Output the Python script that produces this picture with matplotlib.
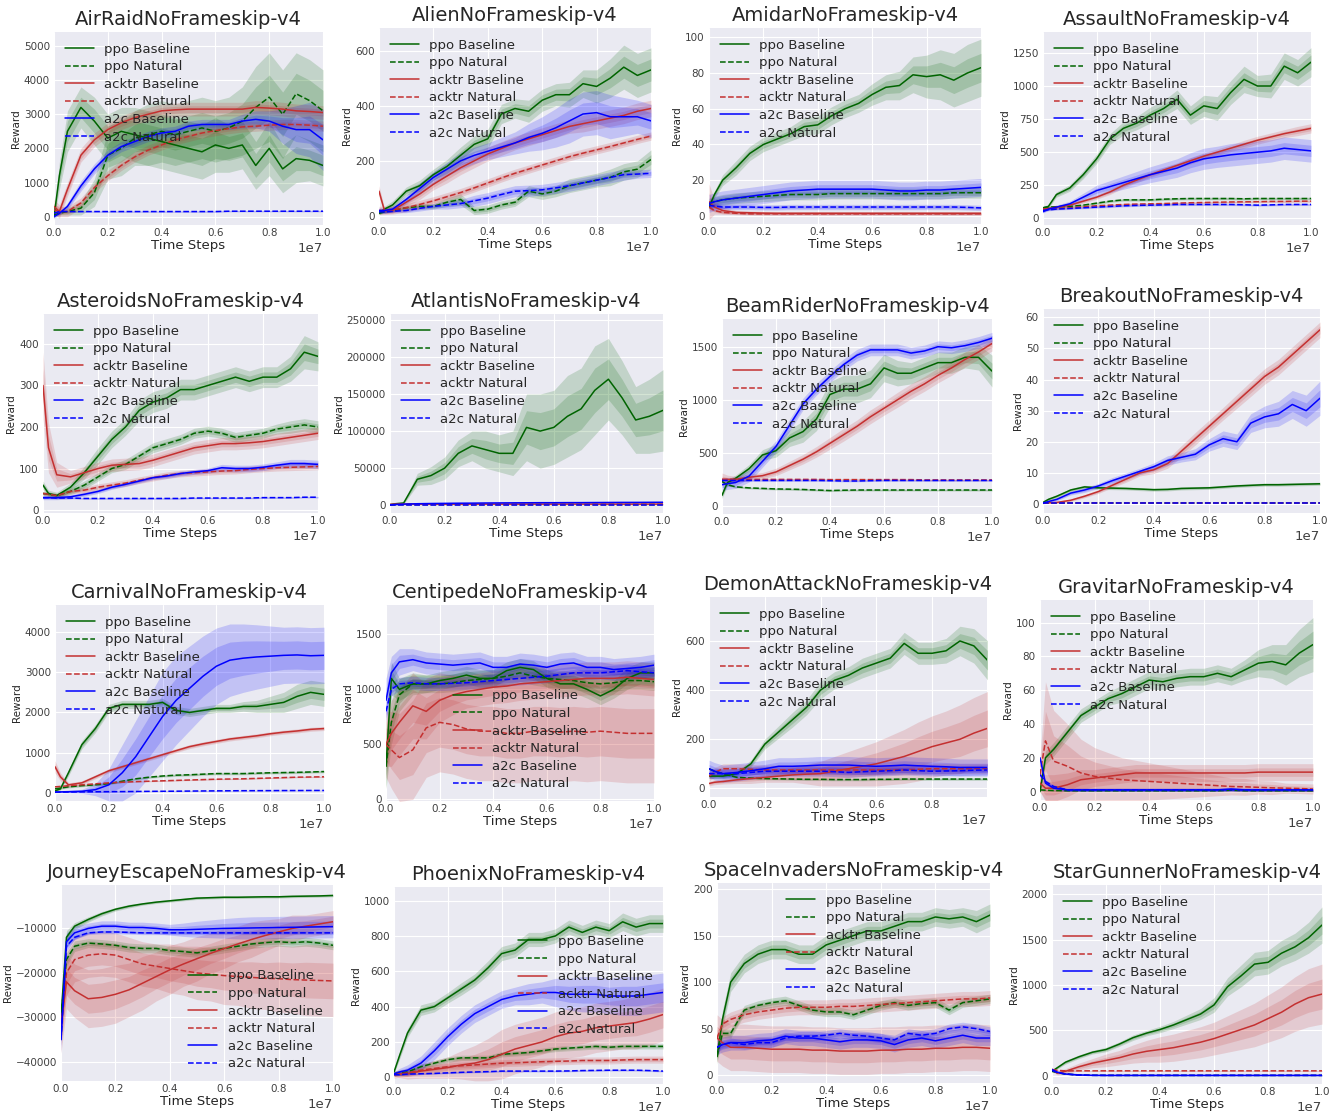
import numpy as np
import matplotlib
matplotlib.use("Agg")
import matplotlib.pyplot as plt
from matplotlib.ticker import ScalarFormatter

# time steps (x 1e7)
STEPS = [0, 0.02, 0.05, 0.1, 0.15, 0.2, 0.25, 0.3, 0.35, 0.4, 0.45, 0.5,
         0.55, 0.6, 0.65, 0.7, 0.75, 0.8, 0.85, 0.9, 0.95, 1.0]

SERIES = ["ppo Baseline", "ppo Natural", "acktr Baseline",
          "acktr Natural", "a2c Baseline", "a2c Natural"]

# order of rows in every *_MEAN / *_SD: ppo base, ppo nat, acktr base, acktr nat, a2c base, a2c nat
AIRRAID_MEAN = [
    [0, 1200, 2500, 3200, 2800, 2300, 2500, 2400, 2300, 2200, 2100, 2000, 1900, 2100, 2000, 2100, 1500, 2000, 1400, 1700, 1650, 1500],
    [50, 100, 150, 250, 700, 1800, 2000, 2300, 2400, 2500, 2400, 2500, 2600, 2500, 2600, 2800, 3200, 3500, 3000, 3600, 3400, 3100],
    [300, 150, 800, 1800, 2250, 2550, 2750, 2900, 3000, 3100, 3130, 3150, 3150, 3150, 3150, 3150, 3200, 3180, 3150, 3100, 3080, 3050],
    [200, 150, 150, 400, 850, 1200, 1500, 1750, 1950, 2100, 2250, 2350, 2450, 2520, 2580, 2630, 2650, 2680, 2700, 2700, 2680, 2650],
    [0, 100, 300, 900, 1400, 1800, 2050, 2200, 2350, 2450, 2500, 2650, 2700, 2700, 2700, 2800, 2850, 2800, 2650, 2550, 2550, 2250],
    [100, 150, 150, 150, 150, 150, 150, 150, 150, 150, 150, 150, 150, 150, 160, 160, 160, 160, 160, 160, 160, 160],
]
AIRRAID_SD = [
    [100, 400, 600, 600, 700, 700, 700, 800, 800, 800, 800, 800, 800, 800, 700, 700, 700, 800, 700, 700, 600, 600],
    [50, 50, 100, 200, 400, 700, 800, 800, 900, 900, 900, 900, 900, 900, 900, 1000, 1200, 1300, 1300, 1200, 1200, 1200],
    200, 150,
    [50, 50, 100, 150, 150, 150, 150, 150, 150, 150, 150, 150, 150, 150, 150, 200, 250, 300, 500, 700, 800, 900],
    20,
]

ALIEN_MEAN = [
    [10, 25, 40, 90, 110, 150, 180, 220, 260, 280, 370, 390, 380, 420, 440, 440, 480, 470, 500, 540, 510, 530],
    [10, 15, 20, 30, 35, 35, 50, 60, 20, 25, 40, 50, 90, 80, 90, 110, 120, 130, 140, 160, 170, 205],
    [90, 20, 20, 50, 80, 115, 145, 175, 200, 225, 245, 265, 280, 295, 310, 325, 335, 345, 355, 365, 380, 390],
    [20, 20, 22, 30, 42, 55, 70, 85, 102, 120, 138, 155, 170, 185, 200, 215, 228, 240, 252, 265, 278, 290],
    [20, 20, 25, 60, 100, 140, 170, 200, 220, 235, 250, 265, 285, 300, 320, 345, 370, 375, 360, 360, 360, 345],
    [15, 15, 17, 20, 28, 35, 40, 45, 55, 65, 78, 90, 92, 95, 102, 110, 120, 130, 140, 150, 152, 155],
]
ALIEN_SD = [
    [5, 10, 15, 15, 20, 20, 25, 30, 30, 35, 35, 35, 40, 40, 40, 45, 50, 60, 70, 80, 80, 80],
    [5, 5, 5, 8, 10, 10, 15, 20, 15, 15, 15, 15, 20, 20, 20, 25, 25, 25, 30, 30, 30, 35],
    [20, 10, 10, 15, 20, 20, 25, 25, 25, 25, 25, 25, 25, 25, 25, 25, 30, 30, 30, 30, 30, 30],
    15,
    [10, 10, 10, 15, 20, 20, 25, 30, 30, 30, 35, 40, 50, 60, 70, 80, 80, 80, 80, 70, 60, 60],
    [5, 5, 5, 8, 10, 10, 15, 15, 20, 20, 20, 20, 20, 20, 20, 20, 20, 20, 20, 20, 15, 15],
]

AMIDAR_MEAN = [
    [5, 12, 20, 27, 35, 40, 43, 46, 50, 51, 56, 60, 63, 68, 72, 73, 79, 78, 79, 76, 80, 83],
    [7, 8, 9, 10, 10.5, 11, 11.5, 12, 12, 12, 12.5, 12.5, 12.5, 12.5, 12.5, 12.5, 12.5, 12.5, 12.5, 13, 13, 13],
    [8, 5, 3, 2, 1.8, 1.6, 1.5, 1.5, 1.5, 1.5, 1.5, 1.5, 1.5, 1.5, 1.5, 1.5, 1.5, 1.5, 1.5, 1.5, 1.5, 1.5],
    [5, 3, 2, 1.5, 1.2, 1.2, 1.2, 1.2, 1.2, 1.2, 1.2, 1.2, 1.2, 1.2, 1.2, 1.2, 1.2, 1.2, 1.2, 1.2, 1.2, 1.2],
    [7, 8, 9, 10, 11, 12, 13, 14, 14.5, 15, 15, 15, 15, 15, 14.5, 14, 14, 14.5, 14.5, 15, 15.5, 16],
    [6, 5.5, 5, 5, 5, 4.8, 4.8, 5, 5, 5, 5, 5, 5, 5, 5, 5, 5, 5, 5, 5, 4.8, 4.5],
]
AMIDAR_SD = [
    [1, 2, 3, 4, 4, 4, 4, 4, 5, 5, 5, 5, 5, 6, 7, 8, 10, 12, 14, 15, 16, 16],
    3,
    [10, 4, 2, 1, 1, 1, 1, 1, 1, 1, 1, 1, 1, 1, 1, 1, 1, 1, 1, 1, 1, 1],
    0.8, 5, 1.5,
]

ASSAULT_MEAN = [
    [80, 90, 180, 230, 330, 450, 600, 680, 720, 780, 830, 900, 780, 850, 830, 950, 1050, 1000, 1000, 1150, 1100, 1180],
    [80, 85, 88, 90, 100, 115, 130, 140, 140, 140, 145, 148, 150, 150, 150, 150, 148, 150, 150, 150, 150, 150],
    [70, 75, 85, 100, 130, 160, 200, 250, 290, 330, 365, 400, 435, 470, 500, 530, 560, 590, 615, 640, 660, 680],
    [70, 72, 75, 80, 88, 95, 100, 105, 108, 110, 112, 115, 118, 120, 122, 124, 125, 126, 128, 128, 130, 130],
    [50, 70, 85, 110, 160, 210, 240, 270, 300, 330, 355, 380, 420, 450, 465, 480, 490, 500, 510, 530, 520, 510],
    [60, 65, 70, 75, 80, 85, 90, 95, 98, 100, 102, 105, 105, 105, 105, 105, 103, 100, 102, 105, 105, 105],
]
ASSAULT_SD = [
    [10, 15, 20, 25, 30, 35, 40, 50, 50, 60, 60, 70, 70, 80, 90, 90, 100, 80, 90, 100, 100, 110],
    10,
    [10, 10, 10, 10, 15, 15, 20, 20, 20, 20, 20, 20, 25, 25, 25, 25, 30, 30, 30, 30, 35, 35],
    8,
    [10, 10, 15, 20, 30, 40, 45, 50, 55, 60, 65, 70, 75, 80, 80, 85, 85, 85, 85, 85, 85, 85],
    8,
]

ASTEROIDS_MEAN = [
    [60, 40, 35, 55, 90, 130, 170, 200, 240, 260, 270, 290, 290, 300, 310, 320, 310, 320, 320, 340, 380, 370],
    [40, 38, 35, 45, 60, 80, 100, 110, 130, 150, 160, 170, 185, 190, 185, 175, 180, 185, 195, 200, 205, 200],
    [300, 150, 85, 80, 90, 100, 108, 110, 112, 120, 130, 140, 150, 155, 160, 160, 162, 165, 170, 175, 180, 185],
    [40, 38, 35, 45, 48, 55, 60, 65, 72, 78, 84, 88, 90, 92, 94, 95, 98, 100, 102, 103, 104, 105],
    [30, 30, 30, 32, 38, 45, 55, 62, 70, 78, 82, 88, 92, 95, 102, 100, 100, 103, 108, 112, 112, 110],
    [30, 30, 29, 29, 28, 28, 28, 28, 28, 28, 28, 28, 29, 29, 29, 29, 29, 30, 30, 30, 31, 31],
]
ASTEROIDS_SD = [
    [10, 8, 8, 10, 15, 20, 20, 20, 25, 25, 25, 25, 25, 25, 25, 25, 25, 25, 25, 30, 40, 35],
    [5, 5, 5, 8, 10, 10, 10, 12, 12, 12, 12, 12, 12, 12, 12, 12, 12, 12, 12, 15, 15, 15],
    [80, 60, 30, 15, 15, 15, 15, 15, 15, 15, 15, 15, 15, 15, 15, 15, 15, 15, 15, 15, 15, 15],
    [5, 5, 5, 6, 7, 8, 8, 8, 8, 8, 8, 8, 8, 8, 8, 8, 8, 8, 8, 8, 8, 8],
    [5, 5, 5, 5, 5, 5, 5, 5, 5, 5, 6, 6, 6, 6, 8, 8, 8, 8, 8, 10, 10, 10],
    2,
]

ATLANTIS_MEAN = [
    [500, 2000, 3000, 35000, 40000, 50000, 70000, 80000, 75000, 70000, 70000, 105000, 100000, 105000, 120000, 130000, 155000, 170000, 145000, 115000, 120000, 128000],
    [800, 1000, 1000, 1000, 1000, 1000, 1000, 1000, 1000, 1000, 1000, 1000, 1000, 1000, 1000, 1000, 1000, 1000, 1000, 1000, 1000, 1000],
    [1000, 1500, 1500, 1500, 1500, 1500, 1500, 1500, 1500, 1500, 1500, 1500, 1500, 1500, 1500, 1500, 1500, 1500, 1500, 1500, 1500, 1500],
    [800, 1000, 1000, 1000, 1000, 1000, 1000, 1000, 1000, 1000, 1000, 1000, 1000, 1000, 1000, 1000, 1000, 1000, 1000, 1000, 1000, 1000],
    [500, 1000, 1500, 2000, 2300, 2500, 2700, 2800, 3000, 3100, 3200, 3300, 3400, 3400, 3500, 3500, 3600, 3700, 3800, 3800, 3900, 4000],
    [500, 500, 500, 500, 500, 500, 500, 500, 500, 500, 500, 500, 500, 500, 500, 500, 500, 500, 500, 500, 500, 500],
]
ATLANTIS_SD = [
    [500, 1000, 1500, 8000, 12000, 15000, 18000, 20000, 25000, 25000, 30000, 45000, 50000, 50000, 55000, 55000, 60000, 55000, 50000, 45000, 50000, 55000],
    500, 500, 300, 800, 200,
]

BEAMRIDER_MEAN = [
    [100, 220, 260, 350, 480, 520, 640, 700, 820, 1050, 1100, 1100, 1150, 1300, 1250, 1250, 1300, 1350, 1350, 1400, 1400, 1270],
    [230, 200, 180, 170, 165, 160, 158, 155, 150, 145, 148, 150, 150, 150, 150, 150, 150, 150, 150, 150, 150, 150],
    [250, 250, 250, 270, 285, 320, 380, 440, 510, 590, 670, 750, 840, 920, 1000, 1080, 1150, 1230, 1300, 1380, 1450, 1530],
    [250, 250, 250, 250, 250, 250, 250, 250, 250, 248, 248, 248, 248, 248, 248, 248, 245, 245, 245, 245, 245, 245],
    [200, 210, 220, 280, 420, 560, 760, 960, 1100, 1220, 1330, 1420, 1470, 1470, 1470, 1440, 1460, 1500, 1490, 1510, 1540, 1580],
    [240, 240, 240, 240, 240, 240, 240, 240, 240, 238, 235, 235, 238, 240, 240, 240, 240, 240, 240, 240, 240, 240],
]
BEAMRIDER_SD = [
    [30, 30, 30, 40, 50, 60, 80, 100, 110, 120, 130, 130, 130, 130, 120, 100, 100, 100, 100, 100, 120, 150],
    10,
    [60, 40, 30, 30, 30, 35, 40, 45, 50, 55, 60, 60, 65, 65, 70, 70, 70, 70, 70, 70, 70, 70],
    8, 55, 8,
]

BREAKOUT_MEAN = [
    [0.5, 1.5, 2.5, 4.5, 5.5, 5.2, 5.1, 5, 4.8, 4.6, 4.7, 5, 5.1, 5.2, 5.5, 5.8, 6, 6.2, 6.2, 6.3, 6.4, 6.5],
    [0.3, 0.3, 0.3, 0.3, 0.3, 0.3, 0.3, 0.3, 0.3, 0.3, 0.3, 0.3, 0.3, 0.3, 0.3, 0.3, 0.3, 0.3, 0.3, 0.3, 0.3, 0.3],
    [0.3, 0.4, 0.5, 1.2, 2.5, 4, 6, 8, 10, 11, 13, 17, 21, 25, 29, 33, 37, 41, 44, 48, 52, 56],
    [0.3, 0.3, 0.3, 0.3, 0.3, 0.3, 0.3, 0.3, 0.3, 0.3, 0.3, 0.3, 0.3, 0.3, 0.3, 0.3, 0.3, 0.3, 0.3, 0.3, 0.3, 0.3],
    [0.3, 0.8, 1.5, 3.5, 4.5, 5.8, 7.5, 9, 10.5, 12, 14, 15, 16, 19, 21, 20, 26, 28, 29, 32, 30, 34],
    [0.3, 0.3, 0.3, 0.3, 0.3, 0.3, 0.3, 0.3, 0.3, 0.3, 0.3, 0.3, 0.3, 0.3, 0.3, 0.3, 0.3, 0.3, 0.3, 0.3, 0.3, 0.3],
]
BREAKOUT_SD = [
    0.5, 0.1,
    [0.2, 0.2, 0.3, 0.4, 0.5, 0.6, 0.8, 1, 1, 1.2, 1.5, 1.8, 2, 2, 2, 2.2, 2.4, 2.5, 2.5, 2.5, 2.5, 2.5],
    0.1,
    [0.2, 0.3, 0.5, 0.6, 0.8, 0.8, 1, 1, 1, 1.2, 1.5, 1.5, 1.8, 2, 2.5, 2.5, 3, 3.5, 4, 4.5, 5, 5.5],
    0.1,
]

CARNIVAL_MEAN = [
    [50, 100, 500, 1200, 1600, 2100, 2200, 2200, 2200, 2250, 2050, 2000, 2050, 2100, 2100, 2150, 2150, 2200, 2250, 2400, 2500, 2450],
    [100, 120, 150, 180, 200, 230, 290, 350, 390, 420, 440, 450, 465, 480, 480, 480, 490, 500, 505, 510, 520, 530],
    [650, 400, 200, 250, 400, 550, 650, 750, 850, 950, 1050, 1150, 1220, 1280, 1340, 1380, 1420, 1470, 1510, 1540, 1580, 1600],
    [150, 160, 180, 200, 225, 250, 265, 280, 290, 300, 310, 320, 330, 340, 345, 350, 360, 370, 380, 390, 395, 400],
    [20, 25, 30, 40, 80, 200, 500, 900, 1400, 1900, 2300, 2600, 2900, 3150, 3300, 3350, 3380, 3400, 3420, 3430, 3410, 3420],
    [20, 20, 22, 25, 28, 30, 32, 35, 38, 40, 42, 45, 48, 50, 52, 54, 55, 56, 58, 58, 60, 60],
]
CARNIVAL_SD = [
    [20, 30, 80, 100, 100, 100, 100, 100, 100, 100, 100, 100, 100, 100, 100, 120, 150, 200, 250, 300, 300, 300],
    30,
    [150, 100, 50, 50, 50, 50, 50, 50, 50, 50, 50, 50, 50, 50, 50, 50, 50, 50, 50, 50, 50, 50],
    15,
    [20, 20, 30, 50, 150, 400, 700, 900, 1000, 1100, 1100, 1050, 1000, 950, 900, 850, 800, 750, 700, 700, 700, 700],
    10,
]

CENTIPEDE_MEAN = [
    [300, 1100, 1000, 1050, 1050, 1080, 1100, 1130, 1100, 1100, 1170, 1200, 1180, 1100, 1050, 1050, 1000, 940, 1000, 1100, 1150, 1150],
    [300, 700, 950, 1050, 1050, 1050, 1060, 1080, 1090, 1100, 1120, 1150, 1120, 1100, 1090, 1080, 1060, 1050, 1060, 1080, 1080, 1070],
    [500, 600, 700, 850, 800, 900, 950, 980, 1000, 1020, 1030, 1050, 1060, 1070, 1080, 1090, 1100, 1100, 1100, 1110, 1100, 1090],
    [500, 450, 380, 450, 650, 700, 680, 640, 620, 620, 600, 600, 620, 620, 610, 620, 610, 620, 610, 600, 600, 600],
    [900, 1150, 1250, 1270, 1240, 1230, 1220, 1230, 1240, 1200, 1200, 1230, 1220, 1200, 1230, 1240, 1200, 1200, 1180, 1190, 1200, 1220],
    [800, 1000, 1050, 1060, 1050, 1050, 1055, 1060, 1070, 1080, 1090, 1100, 1110, 1120, 1135, 1150, 1150, 1150, 1160, 1170, 1160, 1150],
]
CENTIPEDE_SD = [
    [200, 150, 100, 80, 80, 80, 80, 80, 80, 80, 80, 80, 80, 80, 80, 80, 80, 80, 80, 100, 100, 100],
    [200, 200, 150, 100, 80, 80, 80, 80, 80, 80, 80, 80, 80, 80, 80, 80, 80, 80, 80, 80, 80, 80],
    [200, 300, 300, 300, 250, 200, 180, 150, 150, 150, 150, 150, 150, 150, 150, 150, 150, 150, 150, 150, 150, 150],
    [300, 350, 400, 450, 450, 450, 450, 450, 450, 450, 450, 450, 450, 450, 450, 450, 450, 450, 450, 450, 450, 450],
    [200, 150, 120, 100, 100, 100, 100, 100, 100, 100, 100, 100, 100, 100, 100, 100, 100, 100, 100, 100, 100, 100],
    60,
]

DEMON_MEAN = [
    [50, 50, 50, 60, 100, 180, 230, 280, 330, 400, 440, 460, 490, 510, 530, 590, 550, 550, 560, 600, 580, 520],
    [80, 70, 60, 45, 42, 40, 39, 38, 37, 37, 36, 36, 36, 37, 37, 38, 38, 38, 38, 38, 38, 38],
    [20, 25, 28, 35, 40, 45, 50, 55, 58, 60, 70, 80, 90, 100, 115, 130, 150, 170, 185, 200, 225, 245],
    [50, 65, 80, 80, 78, 75, 75, 75, 75, 75, 75, 75, 75, 75, 75, 75, 78, 80, 80, 80, 80, 80],
    [80, 70, 60, 65, 72, 80, 90, 90, 92, 95, 95, 95, 92, 90, 92, 95, 92, 90, 88, 85, 85, 85],
    [60, 60, 60, 60, 65, 70, 70, 70, 70, 70, 68, 65, 68, 70, 72, 75, 72, 70, 71, 72, 74, 75],
]
DEMON_SD = [
    [10, 10, 10, 10, 15, 20, 25, 30, 30, 35, 35, 35, 40, 40, 40, 45, 45, 45, 50, 60, 70, 80],
    5,
    [10, 10, 10, 15, 20, 20, 25, 30, 40, 50, 60, 70, 80, 90, 100, 110, 120, 125, 130, 140, 145, 150],
    20, 35, 20,
]

GRAVITAR_MEAN = [
    [0, 20, 25, 35, 45, 50, 55, 58, 62, 66, 65, 67, 68, 68, 70, 68, 72, 76, 77, 75, 82, 87],
    [1, 0.8, 0.6, 0.5, 0.5, 0.5, 0.5, 0.5, 0.5, 0.5, 0.5, 0.5, 0.5, 0.5, 0.5, 0.8, 0.5, 0.5, 0.5, 0.5, 0.5, 0.5],
    [5, 2, 2, 4, 7, 8, 9, 10, 11, 11, 11, 11, 11, 11, 11, 11, 11, 11.5, 11.5, 11.5, 11.5, 11.5],
    [10, 30, 18, 15, 11, 9, 8, 7, 6.5, 6, 5.5, 5, 4.5, 4, 3.5, 3, 2.8, 2.5, 2.2, 2, 1.8, 1.5],
    [20, 5, 2, 1, 1, 1, 1, 1, 1, 1, 1, 1, 1, 1, 1, 1.5, 1, 1, 1, 1, 1, 1],
    [10, 6, 3, 1, 1, 1, 1, 1, 1, 1, 1, 1, 1, 1, 1, 1, 1, 1, 1, 1, 1, 1],
]
GRAVITAR_SD = [
    [1, 4, 4, 4, 4, 4, 4, 5, 5, 5, 5, 5, 5, 5, 5, 5, 6, 8, 10, 12, 14, 16],
    0.5,
    [5, 8, 8, 7, 6, 5, 5, 5, 5, 5, 5, 5, 5, 5, 5, 5, 5, 5, 5, 5, 5, 5],
    [10, 35, 30, 25, 20, 17, 15, 13, 12, 11, 10, 9, 8, 7, 6, 5, 5, 4, 4, 3, 3, 3],
    1, 1,
]

JOURNEY_MEAN = [
    [-30000, -12000, -9500, -8000, -6700, -5700, -5000, -4500, -4100, -3800, -3500, -3200, -3100, -3000, -3000, -2950, -2900, -2900, -2800, -2750, -2700, -2600],
    [-30000, -17000, -14000, -13300, -13500, -13800, -14300, -14500, -14500, -15000, -15200, -15500, -15000, -14500, -14000, -13500, -13200, -13000, -13200, -13000, -13300, -13800],
    [-32000, -22000, -24000, -25800, -25500, -24800, -23800, -22300, -20800, -19300, -18000, -16800, -15600, -14500, -13500, -12500, -11600, -10800, -10000, -9500, -9000, -8500],
    [-32000, -20000, -17000, -16000, -15700, -16000, -17000, -18000, -18500, -19000, -19500, -20000, -20300, -20600, -20800, -21000, -21200, -21300, -21500, -21600, -21700, -21800],
    [-35000, -13000, -11000, -10000, -9500, -9500, -9800, -9800, -10000, -10300, -10300, -10200, -10100, -10000, -9950, -9900, -9850, -9800, -9750, -9700, -9650, -9600],
    [-35000, -14000, -12000, -11000, -10800, -10800, -10900, -11000, -11000, -11000, -11000, -11000, -11000, -11000, -11000, -11000, -11000, -11000, -11000, -11000, -11000, -11000],
]
JOURNEY_SD = [
    [3000, 1500, 800, 600, 500, 400, 400, 300, 300, 300, 300, 300, 300, 300, 300, 300, 300, 300, 300, 300, 300, 300],
    [3000, 1500, 1200, 1000, 1000, 1000, 1000, 1000, 1000, 1000, 1000, 1000, 1000, 1000, 1000, 1000, 1000, 1000, 1000, 1000, 1000, 1000],
    [6000, 6000, 6000, 6500, 6500, 6500, 6000, 6000, 5500, 5500, 5000, 5000, 4500, 4500, 4000, 4000, 3500, 3000, 3000, 2500, 2500, 2500],
    [4000, 5000, 5000, 5000, 5000, 5000, 5000, 5000, 5000, 5500, 5500, 6000, 6000, 6500, 6500, 7000, 7000, 7500, 7500, 8000, 8000, 8000],
    [3000, 2000, 1500, 1200, 1200, 1200, 1200, 1200, 1200, 1200, 1500, 1800, 2000, 2200, 2400, 2500, 2500, 2500, 2500, 2500, 2500, 2500],
    400,
]

PHOENIX_MEAN = [
    [30, 120, 250, 380, 400, 450, 500, 550, 620, 700, 720, 780, 780, 800, 850, 820, 850, 830, 880, 850, 870, 870],
    [20, 25, 30, 60, 80, 100, 110, 110, 110, 130, 135, 140, 150, 160, 165, 170, 175, 170, 175, 175, 175, 175],
    [15, 18, 20, 35, 45, 55, 70, 80, 100, 130, 160, 180, 200, 230, 250, 260, 280, 290, 300, 310, 330, 355],
    [15, 20, 25, 40, 50, 60, 65, 70, 75, 80, 82, 85, 88, 90, 92, 95, 95, 95, 98, 100, 100, 100],
    [20, 30, 40, 80, 150, 230, 300, 360, 400, 440, 460, 470, 480, 480, 470, 470, 470, 460, 460, 460, 470, 480],
    [15, 15, 18, 20, 22, 25, 28, 30, 32, 35, 35, 35, 35, 35, 36, 38, 39, 40, 40, 40, 38, 35],
]
PHOENIX_SD = [
    [10, 20, 25, 30, 30, 30, 35, 35, 40, 40, 40, 40, 40, 40, 40, 40, 40, 40, 50, 50, 50, 50],
    15,
    [10, 20, 30, 40, 50, 60, 80, 100, 120, 140, 140, 140, 140, 140, 140, 140, 140, 140, 140, 150, 150, 150],
    20,
    [10, 20, 30, 40, 50, 50, 50, 50, 50, 50, 50, 60, 60, 80, 90, 100, 100, 100, 110, 110, 110, 110],
    5,
]

SPACE_MEAN = [
    [20, 60, 100, 120, 130, 135, 135, 130, 130, 140, 145, 150, 155, 155, 160, 165, 165, 170, 168, 170, 165, 172],
    [20, 45, 45, 70, 75, 78, 80, 75, 70, 68, 68, 65, 70, 75, 78, 75, 77, 78, 70, 78, 80, 82],
    [40, 35, 30, 30, 29, 28, 28, 28, 27, 27, 26, 26, 26, 27, 27, 28, 28, 29, 29, 30, 30, 29],
    [40, 55, 60, 65, 68, 70, 72, 73, 73, 73, 74, 74, 75, 76, 77, 78, 79, 80, 81, 82, 82, 83],
    [30, 33, 35, 35, 37, 38, 42, 40, 40, 38, 36, 38, 38, 37, 33, 38, 40, 37, 40, 43, 40, 40],
    [30, 33, 35, 33, 35, 35, 40, 42, 42, 43, 45, 43, 42, 40, 38, 45, 43, 45, 50, 52, 50, 47],
]
SPACE_SD = [
    [8, 10, 10, 10, 10, 10, 10, 10, 10, 10, 10, 10, 10, 10, 10, 10, 10, 10, 10, 10, 12, 12],
    5, 25, 8, 8, 5,
]

STARGUNNER_MEAN = [
    [50, 90, 150, 210, 260, 290, 350, 420, 470, 510, 560, 620, 680, 780, 980, 1100, 1230, 1250, 1350, 1420, 1520, 1660],
    [50, 35, 20, 10, 6, 5, 5, 5, 5, 5, 5, 5, 5, 5, 5, 5, 5, 5, 5, 5, 5, 5],
    [70, 30, 50, 100, 140, 170, 200, 240, 270, 290, 310, 340, 370, 410, 460, 510, 560, 630, 700, 790, 860, 900],
    [70, 60, 55, 55, 55, 55, 55, 55, 55, 55, 55, 55, 55, 55, 55, 55, 55, 55, 55, 55, 55, 55],
    [70, 40, 20, 10, 6, 5, 5, 5, 5, 5, 5, 5, 5, 5, 5, 5, 5, 5, 5, 5, 5, 5],
    [60, 35, 20, 8, 5, 5, 5, 5, 5, 5, 5, 5, 5, 5, 5, 5, 5, 5, 5, 5, 5, 5],
]
STARGUNNER_SD = [
    [10, 15, 20, 20, 20, 25, 25, 30, 30, 35, 40, 50, 60, 80, 100, 120, 130, 130, 140, 150, 170, 200],
    5,
    [20, 20, 30, 40, 50, 70, 80, 100, 120, 140, 150, 160, 170, 180, 200, 220, 240, 260, 280, 300, 320, 330],
    5, 5, 5,
]

GAMES = [
    ("AirRaidNoFrameskip-v4", AIRRAID_MEAN, AIRRAID_SD),
    ("AlienNoFrameskip-v4", ALIEN_MEAN, ALIEN_SD),
    ("AmidarNoFrameskip-v4", AMIDAR_MEAN, AMIDAR_SD),
    ("AssaultNoFrameskip-v4", ASSAULT_MEAN, ASSAULT_SD),
    ("AsteroidsNoFrameskip-v4", ASTEROIDS_MEAN, ASTEROIDS_SD),
    ("AtlantisNoFrameskip-v4", ATLANTIS_MEAN, ATLANTIS_SD),
    ("BeamRiderNoFrameskip-v4", BEAMRIDER_MEAN, BEAMRIDER_SD),
    ("BreakoutNoFrameskip-v4", BREAKOUT_MEAN, BREAKOUT_SD),
    ("CarnivalNoFrameskip-v4", CARNIVAL_MEAN, CARNIVAL_SD),
    ("CentipedeNoFrameskip-v4", CENTIPEDE_MEAN, CENTIPEDE_SD),
    ("DemonAttackNoFrameskip-v4", DEMON_MEAN, DEMON_SD),
    ("GravitarNoFrameskip-v4", GRAVITAR_MEAN, GRAVITAR_SD),
    ("JourneyEscapeNoFrameskip-v4", JOURNEY_MEAN, JOURNEY_SD),
    ("PhoenixNoFrameskip-v4", PHOENIX_MEAN, PHOENIX_SD),
    ("SpaceInvadersNoFrameskip-v4", SPACE_MEAN, SPACE_SD),
    ("StarGunnerNoFrameskip-v4", STARGUNNER_MEAN, STARGUNNER_SD),
]

# ── layout (pixel boxes l, t, r, b in a 1333x1112 canvas) ─────────────
W, H = 1333, 1112
BOXES = [
    (54, 32, 323, 225), (379, 28, 651, 224), (709, 28, 981, 224), (1043, 32, 1311, 225),
    (43, 314, 318, 513), (390, 314, 663, 513), (722, 319, 992, 514), (1043, 309, 1320, 513),
    (55, 605, 324, 801), (386, 605, 654, 801), (709, 597, 987, 797), (1040, 600, 1313, 800),
    (61, 885, 333, 1081), (394, 887, 663, 1084), (717, 883, 990, 1083), (1052, 885, 1322, 1084),
]
YLIMS = [
    (-244, 5409), (-29, 682), (-4.5, 105.2), (-50, 1408),
    (-7, 472), (-10500, 258000), (-76, 1761), (-2.9, 62.7),
    (-202, 4672), (-15, 1767), (-35, 779), (-5, 113.4),
    (-44275, -250), (-38, 1077), (-8.3, 206.5), (-90, 2101),
]
YTICKS = [
    np.arange(0, 5001, 1000), np.arange(0, 601, 200), np.arange(0, 101, 20), np.arange(0, 1251, 250),
    np.arange(0, 401, 100), np.arange(0, 250001, 50000), np.arange(0, 1501, 500), np.arange(0, 61, 10),
    np.arange(0, 4001, 1000), np.arange(0, 1501, 500), np.arange(0, 601, 200), np.arange(0, 101, 20),
    np.arange(-40000, -9999, 10000), np.arange(0, 1001, 200), np.arange(0, 201, 50), np.arange(0, 2001, 500),
]
LEGEND_LOC = ["upper left"] * 16
LEGEND_LOC[9] = "lower center"
LEGEND_LOC[12] = "lower right"
LEGEND_LOC[13] = "center right"
LEGEND_LOC[14] = "upper center"
XMAX = [1.0] * 16
XMAX[10] = 0.997

C_PPO = "#006400"
C_ACKTR = "#c43030"
C_A2C = "#0000ff"
STYLES = [(C_PPO, "-"), (C_PPO, "--"), (C_ACKTR, "-"),
          (C_ACKTR, "--"), (C_A2C, "-"), (C_A2C, "--")]


def main():
    plt.style.use("seaborn-v0_8-darkgrid")
    plt.rcParams.update({
        "font.family": "DejaVu Sans",
        "text.color": "#262626",
        "axes.labelcolor": "#262626",
        "xtick.color": "#404040",
        "ytick.color": "#404040",
        "xtick.labelsize": 7.5,
        "ytick.labelsize": 7.5,
    })
    fig = plt.figure(figsize=(W / 100, H / 100), dpi=100)
    fig.patch.set_facecolor("white")
    x = np.array(STEPS) * 1e7

    for i, (title, means, sds) in enumerate(GAMES):
        l, t, r, b = BOXES[i]
        ax = fig.add_axes([l / W, 1 - b / H, (r - l) / W, (b - t) / H])
        for name, (color, ls), m, s in zip(SERIES, STYLES, means, sds):
            m = np.asarray(m, dtype=float)
            s = np.broadcast_to(np.asarray(s, dtype=float), m.shape)
            ax.fill_between(x, m - s, m + s, color=color, alpha=0.17, lw=0)
            ax.fill_between(x, m - 0.5 * s, m + 0.5 * s, color=color, alpha=0.17, lw=0)
            ax.plot(x, m, color=color, ls=ls, lw=1.1, label=name)

        ax.set_xlim(0, XMAX[i] * 1e7)
        # keep the 1e7 offset on every panel
        fmt = ScalarFormatter()
        fmt.set_powerlimits((7, 7))
        ax.xaxis.set_major_formatter(fmt)
        ax.set_xticks(np.arange(0, XMAX[i] + 1e-9, 0.2) * 1e7)
        ax.set_ylim(*YLIMS[i])
        ax.set_yticks(YTICKS[i])
        ax.set_title(title, fontsize=14, pad=5)
        ax.set_xlabel("Time Steps", fontsize=9.5, labelpad=1)
        ax.set_ylabel("Reward", fontsize=7.5, labelpad=2)
        ax.xaxis.get_offset_text().set_fontsize(9.5)
        ax.tick_params(axis="y", pad=3)
        ax.tick_params(axis="x", pad=2)
        ax.legend(loc=LEGEND_LOC[i], frameon=False, fontsize=9.5,
                  labelspacing=0.35, handlelength=2.2, borderaxespad=0.4)

    fig.savefig("out.png", dpi=100, facecolor="white")
    plt.close(fig)


if __name__ == "__main__":
    main()
